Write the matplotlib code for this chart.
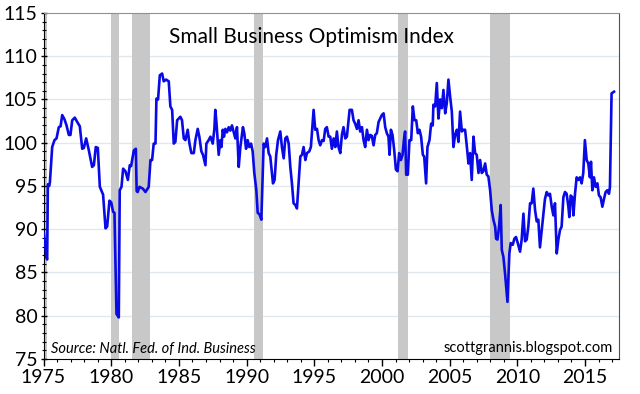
import numpy as np
import matplotlib
matplotlib.use("Agg")
import matplotlib.pyplot as plt
from matplotlib.ticker import MultipleLocator

plt.rcParams["font.family"] = ["Lato", "DejaVu Sans"]

# NFIB small business optimism index (quarterly before 1986)
years = [1975.03, 1975.22, 1975.27, 1975.32, 1975.42, 1975.47, 1975.64, 1975.81, 1975.96,
         1976.13, 1976.26, 1976.38, 1976.55, 1976.70, 1976.87, 1976.99, 1977.12, 1977.31,
         1977.49, 1977.68, 1977.86, 1977.98, 1978.15, 1978.35, 1978.59, 1978.72, 1978.86,
         1979.01, 1979.16, 1979.40, 1979.58, 1979.70, 1979.87, 1980.00, 1980.14, 1980.24,
         1980.39, 1980.56, 1980.63, 1980.76, 1980.88, 1981.05, 1981.23, 1981.37, 1981.47,
         1981.67, 1981.82, 1981.88, 1981.95, 1982.09, 1982.33, 1982.53, 1982.77, 1982.90,
         1983.02, 1983.14, 1983.27, 1983.34, 1983.46, 1983.59, 1983.76, 1983.88, 1984.05,
         1984.25, 1984.37, 1984.50, 1984.62, 1984.74, 1984.87, 1985.11, 1985.23, 1985.36,
         1985.48, 1985.65, 1985.78, 1985.92, 1986.10, 1986.22, 1986.39, 1986.51, 1986.66,
         1986.78, 1986.96, 1987.03, 1987.20, 1987.33, 1987.50, 1987.62, 1987.69, 1987.77,
         1987.94, 1988.06, 1988.14, 1988.24, 1988.33, 1988.43, 1988.55, 1988.68, 1988.80,
         1988.92, 1989.05, 1989.17, 1989.29, 1989.42, 1989.54, 1989.73, 1989.83, 1989.96,
         1990.08, 1990.20, 1990.33, 1990.45, 1990.57, 1990.72, 1990.82, 1990.96, 1991.09,
         1991.26, 1991.38, 1991.51, 1991.63, 1991.75, 1991.95, 1992.07, 1992.19, 1992.32,
         1992.49, 1992.61, 1992.74, 1992.86, 1992.98, 1993.11, 1993.23, 1993.35, 1993.47,
         1993.60, 1993.72, 1993.84, 1993.97, 1994.09, 1994.21, 1994.34, 1994.46, 1994.63,
         1994.75, 1994.88, 1994.95, 1995.07, 1995.20, 1995.32, 1995.44, 1995.57, 1995.69,
         1995.81, 1995.93, 1996.06, 1996.18, 1996.30, 1996.43, 1996.55, 1996.67, 1996.79,
         1996.92, 1997.04, 1997.16, 1997.29, 1997.41, 1997.53, 1997.61, 1997.78, 1997.90,
         1998.02, 1998.15, 1998.27, 1998.39, 1998.52, 1998.64, 1998.76, 1998.89, 1999.01,
         1999.13, 1999.25, 1999.38, 1999.50, 1999.62, 1999.75, 1999.87, 1999.99, 2000.12,
         2000.24, 2000.36, 2000.48, 2000.56, 2000.66, 2000.78, 2000.90, 2001.03, 2001.15,
         2001.27, 2001.40, 2001.52, 2001.62, 2001.71, 2001.79, 2001.91, 2002.03, 2002.16,
         2002.28, 2002.40, 2002.53, 2002.65, 2002.77, 2002.89, 2003.02, 2003.12, 2003.26,
         2003.36, 2003.51, 2003.63, 2003.75, 2003.80, 2003.93, 2004.05, 2004.17, 2004.30,
         2004.42, 2004.54, 2004.67, 2004.79, 2004.91, 2005.03, 2005.16, 2005.28, 2005.40,
         2005.53, 2005.65, 2005.77, 2005.90, 2006.02, 2006.14, 2006.26, 2006.39, 2006.51,
         2006.63, 2006.76, 2006.88, 2007.00, 2007.13, 2007.25, 2007.37, 2007.49, 2007.62,
         2007.74, 2007.86, 2007.99, 2008.11, 2008.23, 2008.36, 2008.43, 2008.53, 2008.65,
         2008.77, 2008.85, 2008.97, 2009.09, 2009.17, 2009.27, 2009.34, 2009.41, 2009.51,
         2009.66, 2009.78, 2009.90, 2010.03, 2010.20, 2010.32, 2010.45, 2010.57, 2010.69,
         2010.81, 2010.94, 2011.06, 2011.18, 2011.31, 2011.43, 2011.55, 2011.67, 2011.80,
         2011.92, 2012.04, 2012.17, 2012.29, 2012.41, 2012.54, 2012.66, 2012.78, 2012.91,
         2013.03, 2013.15, 2013.27, 2013.40, 2013.52, 2013.64, 2013.77, 2013.84, 2013.94,
         2014.06, 2014.14, 2014.26, 2014.38, 2014.50, 2014.63, 2014.75, 2014.87, 2014.99,
         2015.12, 2015.24, 2015.36, 2015.44, 2015.54, 2015.66, 2015.78, 2015.91, 2016.03,
         2016.15, 2016.28, 2016.40, 2016.52, 2016.64, 2016.77, 2016.84, 2016.96, 2017.14]

index = [89.5, 86.7, 86.5, 95.2, 95.0, 95.4, 99.5, 100.3, 100.5,
         101.8, 101.9, 103.2, 102.7, 102.0, 100.9, 100.9, 102.6, 102.9,
         102.4, 101.9, 99.3, 99.4, 100.5, 99.1, 97.2, 97.4, 99.5,
         99.4, 94.9, 94.0, 90.1, 90.3, 93.3, 93.1, 92.0, 91.9,
         80.2, 79.8, 94.5, 94.9, 97.0, 96.7, 95.7, 97.4, 97.3,
         99.1, 99.3, 94.4, 94.3, 94.9, 94.7, 94.3, 94.9, 98.0,
         98.0, 99.9, 99.9, 105.1, 105.0, 107.8, 108.0, 107.1, 107.3,
         107.1, 104.2, 103.8, 99.9, 100.1, 102.6, 103.0, 102.6, 100.5,
         100.3, 101.5, 99.9, 98.8, 98.8, 100.3, 101.6, 100.7, 99.0,
         98.6, 97.4, 99.9, 100.3, 100.7, 99.9, 101.6, 103.8, 102.4,
         98.6, 100.3, 99.5, 101.5, 100.7, 101.6, 101.2, 101.8, 101.4,
         102.0, 101.2, 100.5, 101.8, 97.2, 99.5, 101.8, 101.1, 99.3,
         100.3, 99.5, 99.9, 99.0, 96.5, 94.5, 91.9, 91.7, 91.1,
         99.9, 99.5, 100.5, 98.8, 98.4, 95.3, 95.7, 98.6, 100.3,
         101.3, 99.5, 98.2, 100.5, 100.7, 99.9, 97.2, 95.3, 93.0,
         92.8, 92.4, 95.3, 98.4, 98.6, 99.5, 98.0, 98.8, 99.0,
         99.5, 102.2, 103.8, 101.5, 101.6, 100.3, 99.7, 100.3, 100.2,
         101.6, 101.8, 100.7, 100.7, 99.3, 100.5, 99.5, 101.3, 99.5,
         98.8, 100.9, 101.8, 100.5, 100.7, 102.6, 103.8, 103.8, 102.6,
         102.2, 101.6, 102.6, 101.3, 101.8, 100.3, 99.5, 101.5, 100.3,
         100.9, 100.8, 99.7, 100.9, 101.1, 102.4, 102.8, 103.2, 103.4,
         101.8, 101.1, 100.7, 98.6, 101.5, 100.9, 99.2, 96.9, 96.7,
         98.8, 98.0, 98.6, 100.3, 101.3, 96.3, 96.3, 100.3, 100.3,
         104.2, 102.6, 102.6, 101.1, 101.5, 100.7, 98.6, 98.4, 95.3,
         99.5, 100.3, 102.2, 102.0, 104.4, 104.2, 106.9, 102.8, 105.0,
         104.0, 106.1, 103.4, 104.6, 107.3, 105.4, 103.6, 99.5, 100.9,
         101.5, 100.1, 103.6, 101.3, 101.5, 101.5, 99.7, 97.6, 98.8,
         95.7, 100.7, 98.8, 98.6, 96.5, 98.0, 96.5, 96.7, 97.6,
         96.3, 96.1, 94.5, 92.2, 91.1, 90.3, 88.9, 88.8, 90.3,
         92.8, 87.6, 86.8, 84.9, 83.4, 81.6, 84.5, 87.2, 88.4,
         88.2, 88.9, 89.1, 88.4, 87.4, 88.8, 91.8, 88.6, 88.8,
         90.3, 93.0, 93.0, 94.7, 92.2, 90.9, 91.1, 87.9, 89.9,
         91.8, 93.5, 94.3, 93.9, 94.1, 92.6, 91.6, 93.0, 87.2,
         88.8, 89.9, 90.3, 93.7, 94.3, 94.1, 92.6, 91.4, 93.9,
         93.7, 91.6, 94.1, 96.0, 95.7, 96.0, 95.3, 96.5, 100.3,
         98.0, 97.6, 96.0, 97.8, 94.5, 96.0, 94.9, 95.3, 93.9,
         93.7, 92.6, 93.5, 94.3, 94.5, 94.1, 94.9, 105.7, 105.9]

# recession periods (start, end)
recessions = [(1974.85, 1975.25), (1980.0, 1980.55), (1981.5, 1982.85),
              (1990.55, 1991.2), (2001.2, 2001.9), (2007.95, 2009.45)]

fig, ax = plt.subplots(figsize=(6.4, 3.94), dpi=100)
fig.subplots_adjust(left=0.068, right=0.967, bottom=0.089, top=0.967)

ax.set_xlim(1975, 2017.5)
ax.set_ylim(75, 115)

for y in range(80, 115, 5):
    ax.axhline(y, color="#dfe7ef", lw=1, zorder=0)

for a, b in recessions:
    ax.axvspan(a, b, color="#c8c8c8", lw=0, zorder=1)

ax.plot(years, index, color="#0a0ae6", lw=1.9, zorder=3)

ax.xaxis.set_major_locator(MultipleLocator(5))
ax.xaxis.set_minor_locator(MultipleLocator(1))
ax.yaxis.set_major_locator(MultipleLocator(5))
ax.yaxis.set_minor_locator(MultipleLocator(1))
ax.tick_params(axis="both", which="major", labelsize=14, length=5, width=1, pad=2)
ax.tick_params(axis="both", which="minor", length=2.5, width=0.8)
ax.tick_params(axis="y", which="both", direction="inout")

ax.spines["left"].set_color("black")
ax.spines["bottom"].set_color("black")
ax.spines["top"].set_color("#909090")
ax.spines["right"].set_color("#505050")

ax.text(0.465, 0.93, "Small Business Optimism Index", transform=ax.transAxes,
        ha="center", va="center", fontsize=15)
ax.text(0.013, 0.03, "Source: Natl. Fed. of Ind. Business", transform=ax.transAxes,
        ha="left", va="center", fontsize=10.5, style="italic")
ax.text(0.99, 0.033, "scottgrannis.blogspot.com", transform=ax.transAxes,
        ha="right", va="center", fontsize=10.5)

fig.savefig("out.png", dpi=100)
